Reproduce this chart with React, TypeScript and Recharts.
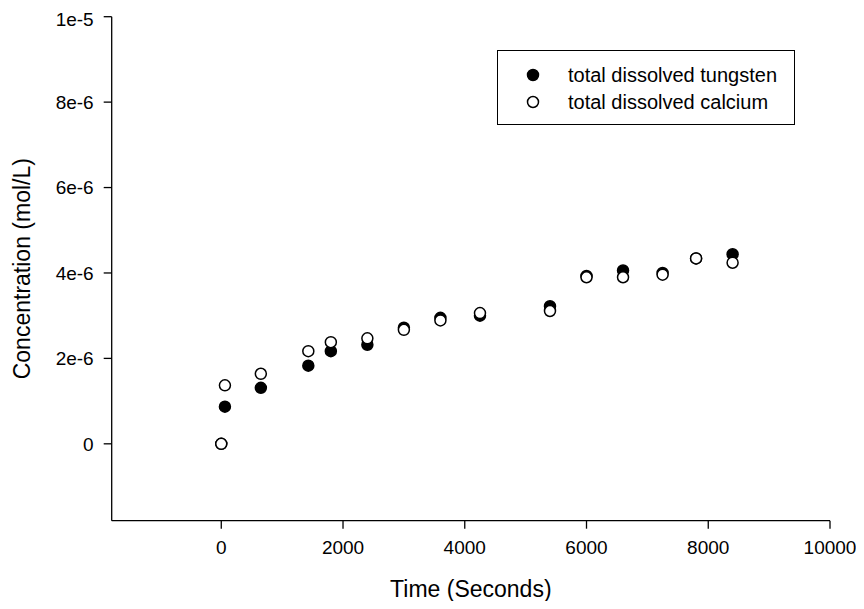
import React from 'react';
import { ScatterChart, Scatter, XAxis, YAxis, Legend } from 'recharts';

const times = [0, 60, 650, 1430, 1800, 2400, 3000, 3600, 4250, 5400, 6000, 6600, 7250, 7800, 8400];
const tungsten = [0, 0.87e-6, 1.31e-6, 1.83e-6, 2.17e-6, 2.32e-6, 2.72e-6, 2.95e-6, 3.0e-6, 3.22e-6, 3.93e-6, 4.06e-6, 4.0e-6, 4.34e-6, 4.44e-6];
const calcium = [0, 1.37e-6, 1.64e-6, 2.17e-6, 2.38e-6, 2.47e-6, 2.67e-6, 2.89e-6, 3.06e-6, 3.11e-6, 3.9e-6, 3.9e-6, 3.96e-6, 4.34e-6, 4.24e-6];
const xTicks = [0, 2000, 4000, 6000, 8000, 10000];
const yTicks = [0, 2e-6, 4e-6, 6e-6, 8e-6, 1e-5];
const xDomain = [-1800, 10000];
const yDomain = [-1.8e-6, 1e-5];
const seriesNames = ['total dissolved tungsten', 'total dissolved calcium'];
const seriesFills = ['#000', '#fff'];
const xTitle = 'Time (Seconds)';
const yTitle = 'Concentration (mol/L)';

const FONT = 'Arial, "Liberation Sans", sans-serif';

const wData = times.map((t, i) => ({ t, c: tungsten[i] }));
const cData = times.map((t, i) => ({ t, c: calcium[i] }));

const makeDot = (fill: string) => (props: any) => {
  const { cx, cy } = props;
  if (cx == null || cy == null) return <g />;
  return <circle cx={cx} cy={cy} r={5.5} fill={fill} stroke="#000" strokeWidth={1.5} />;
};

const yFmt = (v: number) => (v === 0 ? '0' : v.toExponential().replace('+', ''));

const XTitle = (props: any) => {
  const vb = props.viewBox || {};
  return (
    <text x={vb.x + vb.width / 2} y={vb.y + 76} textAnchor="middle" fontFamily={FONT} fontSize={23} fill="#000">
      {xTitle}
    </text>
  );
};

const YTitle = (props: any) => {
  const vb = props.viewBox || {};
  const cy = vb.y + vb.height / 2;
  const x = 14;
  return (
    <text x={x} y={cy} transform={`rotate(-90, ${x}, ${cy})`} textAnchor="middle" dominantBaseline="central" fontFamily={FONT} fontSize={23} fill="#000">
      {yTitle}
    </text>
  );
};

const renderLegend = () => {
  const rows = [25, 52];
  return (
    <div style={{ width: 298, height: 75, border: '1px solid #000', boxSizing: 'border-box', background: '#fff', fontFamily: FONT, fontSize: 20, position: 'relative', color: '#000' }}>
      {seriesNames.map((name, i) => (
        <React.Fragment key={i}>
          <svg width={14} height={14} style={{ position: 'absolute', left: 36 - 7 - 1, top: rows[i] - 7 - 1 }}>
            <circle cx={7} cy={7} r={5.5} fill={seriesFills[i]} stroke="#000" strokeWidth={1.5} />
          </svg>
          <span style={{ position: 'absolute', left: 70, top: rows[i] - 1, transform: 'translateY(-50%)', lineHeight: 1, whiteSpace: 'nowrap' }}>
            {name}
          </span>
        </React.Fragment>
      ))}
    </div>
  );
};

const tickStyle = { fill: '#000', fontSize: 19, fontFamily: FONT };
const axisStroke = { stroke: '#000', strokeWidth: 1.3 };

export default function App() {
  return (
    <ScatterChart width={848} height={593} margin={{ top: 8.7, right: 26, bottom: 30.3, left: 43.7 }}>
      <XAxis
        dataKey="t"
        type="number"
        domain={xDomain}
        ticks={xTicks}
        allowDataOverflow
        tick={tickStyle}
        tickSize={8}
        tickMargin={12}
        axisLine={axisStroke}
        tickLine={axisStroke}
        height={50}
        label={<XTitle />}
      />
      <XAxis xAxisId="top" orientation="top" type="number" domain={xDomain} allowDataOverflow height={0} tick={false} tickLine={false} axisLine={axisStroke} />
      <YAxis
        dataKey="c"
        type="number"
        domain={yDomain}
        ticks={yTicks}
        allowDataOverflow
        tickFormatter={yFmt}
        tick={tickStyle}
        tickSize={8}
        tickMargin={10}
        axisLine={axisStroke}
        tickLine={axisStroke}
        width={60}
        label={<YTitle />}
      />
      <YAxis yAxisId="right" orientation="right" type="number" domain={yDomain} allowDataOverflow width={0} tick={false} tickLine={false} axisLine={axisStroke} />
      <Legend
        layout="vertical"
        align="center"
        verticalAlign="middle"
        wrapperStyle={{ left: 489, top: 42, width: 298, height: 75 }}
        content={renderLegend}
      />
      <Scatter name={seriesNames[0]} data={wData} fill={seriesFills[0]} shape={makeDot(seriesFills[0])} isAnimationActive={false} />
      <Scatter name={seriesNames[1]} data={cData} fill={seriesFills[1]} shape={makeDot(seriesFills[1])} isAnimationActive={false} />
    </ScatterChart>
  );
}
